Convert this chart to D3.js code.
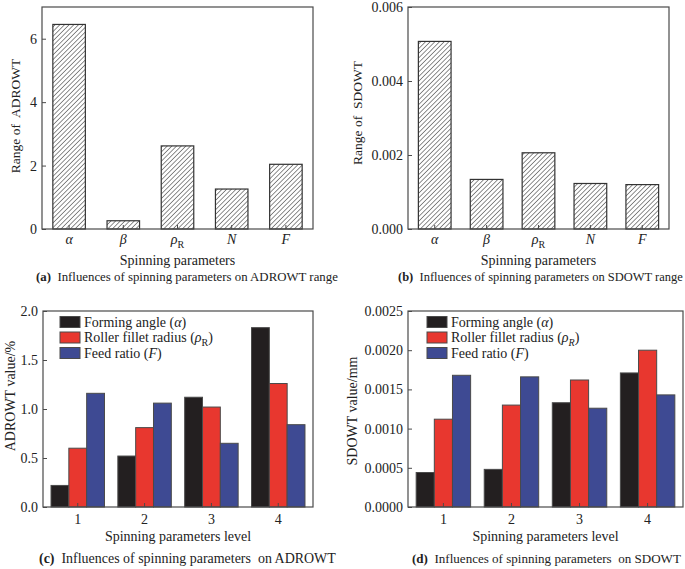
<!DOCTYPE html>
<html><head><meta charset="utf-8">
<script src="https://cdn.jsdelivr.net/npm/d3@7"></script>
<style>
body{margin:0;background:#fff;}
svg{display:block;font-family:"Liberation Serif","Times New Roman",serif;}
text{white-space:pre;}
</style></head>
<body><svg id="c" width="685" height="569"></svg>
<script>
// ---- data ----
const paramKeys = ["alpha","beta","rhoR","N","F"];
const adrowtRange = [6.45, 0.26, 2.62, 1.26, 2.04];
const sdowtRange = [0.00507, 0.00134, 0.00206, 0.00123, 0.00120];
const rangeTicksA = [0, 2, 4, 6];
const rangeTicksB = [0, 0.002, 0.004, 0.006];

const levels = ["1","2","3","4"];
const seriesKeys = ["alpha","rho","F"];
const seriesColors = ["#231f20","#e8372f","#3e4a93"];
const adrowtAlpha = [0.22, 0.52, 1.12, 1.83];
const adrowtRho   = [0.60, 0.81, 1.02, 1.26];
const adrowtF     = [1.16, 1.06, 0.65, 0.84];
const sdowtAlpha  = [0.00044, 0.00048, 0.00133, 0.00171];
const sdowtRho    = [0.00112, 0.00130, 0.00162, 0.00200];
const sdowtF      = [0.00168, 0.00166, 0.00126, 0.00143];
const ticksC = [0, 0.5, 1.0, 1.5, 2.0];
const ticksD = [0, 0.0005, 0.0010, 0.0015, 0.0020, 0.0025];

const svg = d3.select("#c");
const FS = 14;
const frameColor = "#4a4a4a";

// hatch pattern
const defs = svg.append("defs");
const pat = defs.append("pattern").attr("id","hatch").attr("patternUnits","userSpaceOnUse")
  .attr("width",3.3).attr("height",3.3).attr("patternTransform","rotate(45)");
pat.append("rect").attr("width",3.3).attr("height",3.3).attr("fill","#fff");
pat.append("line").attr("x1",0).attr("y1",0).attr("x2",0).attr("y2",3.3)
  .attr("stroke","#444").attr("stroke-width",1.2);

function fitText(t, target){
  const w = t.node().getComputedTextLength();
  const fs = +t.attr("font-size");
  t.attr("font-size", fs*target/w);
}

function paramLabel(sel, key){
  if(key==="alpha"){ sel.append("tspan").attr("font-style","italic").text("α"); }
  else if(key==="beta"){ sel.append("tspan").attr("font-style","italic").text("β"); }
  else if(key==="rhoR"){ sel.append("tspan").attr("font-style","italic").text("ρ");
    sel.append("tspan").attr("font-size",10).attr("dy",4).text("R"); }
  else { sel.append("tspan").attr("font-style","italic").text(key); }
}

function rangePanel(o){
  const g = svg.append("g");
  const x = d3.scaleBand().domain(paramKeys).range([o.x0,o.x1]).paddingInner(o.pad).paddingOuter(0.2);
  const y = d3.scaleLinear().domain(o.domain).range([o.y1,o.y0]);
  g.selectAll("rect.bar").data(o.values).join("rect").attr("class","bar")
    .attr("x",(d,i)=>x(paramKeys[i])).attr("width",x.bandwidth())
    .attr("y",d=>y(d)).attr("height",d=>y(0)-y(d))
    .attr("fill","url(#hatch)").attr("stroke","#333").attr("stroke-width",1.2);
  const ya = g.append("g").attr("transform",`translate(${o.x0},0)`)
    .call(d3.axisLeft(y).tickValues(o.ticks).tickFormat(o.fmt).tickSize(-4).tickPadding(5));
  ya.select(".domain").remove();
  ya.selectAll("line").attr("stroke",frameColor);
  ya.selectAll("text").attr("font-size",FS).attr("font-family","Liberation Serif").attr("fill","#222");
  const xa = g.append("g").attr("transform",`translate(0,${o.y1})`)
    .call(d3.axisBottom(x).tickSize(-4).tickFormat(""));
  xa.select(".domain").remove();
  xa.selectAll("line").attr("stroke",frameColor);
  paramKeys.forEach(k=>{
    const t = g.append("text").attr("x",x(k)+x.bandwidth()/2).attr("y",o.y1+15)
      .attr("text-anchor","middle").attr("font-size",FS).attr("fill","#222");
    paramLabel(t,k);
  });
  g.append("rect").attr("x",o.x0).attr("y",o.y0).attr("width",o.x1-o.x0).attr("height",o.y1-o.y0)
    .attr("fill","none").attr("stroke",frameColor).attr("stroke-width",1.2);
  g.append("text").attr("transform",`translate(${o.ytx},${o.yty}) rotate(-90)`)
    .attr("text-anchor","middle").attr("dy","0.35em").attr("font-size",13.5).attr("fill","#222").text(o.ytitle);
  g.append("text").attr("x",(o.x0+o.x1)/2).attr("y",o.y1+36).attr("text-anchor","middle")
    .attr("font-size",FS).attr("fill","#222").text(o.xtitle);
  const cap = g.append("text").attr("x",o.capx).attr("y",o.y1+52).attr("font-size",13.5).attr("fill","#222");
  cap.append("tspan").attr("font-weight","bold").text(o.capTag);
  cap.append("tspan").text("  "+o.caption);
  fitText(cap, o.capw);
}

rangePanel({x0:42,x1:313,y0:7,y1:229,domain:[0,7],values:adrowtRange,ticks:rangeTicksA,
  fmt:d3.format("d"),pad:0.4,ytitle:"Range of  ADROWT",ytx:15,yty:116,
  xtitle:"Spinning parameters",capx:36,capw:302,capTag:"(a)",caption:"Influences of spinning parameters on ADROWT range"});
rangePanel({x0:408,x1:669,y0:7,y1:229,domain:[0,0.006],values:sdowtRange,ticks:rangeTicksB,
  fmt:d3.format(".3f"),pad:0.37,ytitle:"Range of  SDOWT",ytx:357,yty:113,
  xtitle:"Spinning parameters",capx:398,capw:285,capTag:"(b)",caption:"Influences of spinning parameters on SDOWT range"});

function levelPanel(o){
  const g = svg.append("g");
  const x = d3.scaleBand().domain(levels).range([o.x0,o.x1]).paddingInner(0.2).paddingOuter(0.12);
  const xs = d3.scaleBand().domain(seriesKeys).range([0,x.bandwidth()]);
  const y = d3.scaleLinear().domain(o.domain).range([o.y1,o.y0]);
  o.series.forEach((vals,si)=>{
    g.selectAll("rect.s"+si).data(vals).join("rect").attr("class","s"+si)
      .attr("x",(d,i)=>x(levels[i])+xs(seriesKeys[si])).attr("width",xs.bandwidth())
      .attr("y",d=>y(d)).attr("height",d=>y(0)-y(d))
      .attr("fill",seriesColors[si]).attr("stroke","#4a4a4a").attr("stroke-width",1);
  });
  const ya = g.append("g").attr("transform",`translate(${o.x0},0)`)
    .call(d3.axisLeft(y).tickValues(o.ticks).tickFormat(o.fmt).tickSize(-4).tickPadding(5));
  ya.select(".domain").remove();
  ya.selectAll("line").attr("stroke",frameColor);
  ya.selectAll("text").attr("font-size",FS).attr("font-family","Liberation Serif").attr("fill","#222");
  const xa = g.append("g").attr("transform",`translate(0,${o.y1})`)
    .call(d3.axisBottom(x).tickSize(-4).tickPadding(7));
  xa.select(".domain").remove();
  xa.selectAll("line").attr("stroke",frameColor);
  xa.selectAll("text").attr("font-size",FS).attr("font-family","Liberation Serif").attr("fill","#222");
  g.append("rect").attr("x",o.x0).attr("y",o.y0).attr("width",o.x1-o.x0).attr("height",o.y1-o.y0)
    .attr("fill","none").attr("stroke",frameColor).attr("stroke-width",1.2);
  const rowY = [322, 337.5, 353];
  seriesKeys.forEach((k,i)=>{
    g.append("rect").attr("x",o.lx).attr("y",rowY[i]-5.5).attr("width",20).attr("height",11)
      .attr("fill",seriesColors[i]).attr("stroke","#4a4a4a").attr("stroke-width",1);
    const t = g.append("text").attr("x",o.lx+24).attr("y",rowY[i]).attr("dy","0.35em")
      .attr("font-size",FS).attr("fill","#222");
    if(k==="alpha"){ t.append("tspan").text("Forming angle ("); t.append("tspan").attr("font-style","italic").text("α"); t.append("tspan").text(")"); }
    else if(k==="rho"){ t.append("tspan").text("Roller fillet radius ("); t.append("tspan").attr("font-style","italic").text("ρ");
      t.append("tspan").attr("font-size",10).attr("dy",4).attr("font-style",o.subItalic?"italic":"normal").text("R");
      t.append("tspan").attr("dy",-4).text(")"); }
    else { t.append("tspan").text("Feed ratio ("); t.append("tspan").attr("font-style","italic").text("F"); t.append("tspan").text(")"); }
  });
  g.append("text").attr("transform",`translate(${o.ytx},${o.yty}) rotate(-90)`)
    .attr("text-anchor","middle").attr("dy","0.35em").attr("font-size",FS).attr("fill","#222").text(o.ytitle);
  g.append("text").attr("x",(o.x0+o.x1)/2).attr("y",o.y1+34).attr("text-anchor","middle")
    .attr("font-size",FS).attr("fill","#222").text(o.xtitle);
  const cap = g.append("text").attr("x",o.capx).attr("y",o.y1+56).attr("font-size",13.5).attr("fill","#222");
  cap.append("tspan").attr("font-weight","bold").text(o.capTag);
  cap.append("tspan").text("  "+o.caption);
  fitText(cap, o.capw);
}

levelPanel({x0:43,x1:313,y0:311,y1:507,domain:[0,2],ticks:ticksC,fmt:d3.format(".1f"),
  series:[adrowtAlpha,adrowtRho,adrowtF],lx:60,subItalic:false,
  ytitle:"ADROWT value/%",ytx:10,yty:396,xtitle:"Spinning parameters level",
  capx:39,capw:297,capTag:"(c)",caption:"Influences of spinning parameters  on ADROWT"});
levelPanel({x0:408,x1:683,y0:311,y1:507,domain:[0,0.0025],ticks:ticksD,fmt:d3.format(".4f"),
  series:[sdowtAlpha,sdowtRho,sdowtF],lx:427,subItalic:true,
  ytitle:"SDOWT value/mm",ytx:352,yty:411,xtitle:"Spinning parameters level",
  capx:412,capw:269,capTag:"(d)",caption:"Influences of spinning parameters  on SDOWT"});
</script></body></html>
